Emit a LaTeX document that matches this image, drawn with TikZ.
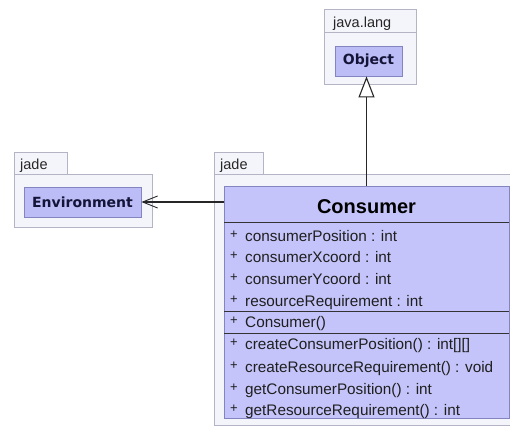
\documentclass[tikz,border=0pt]{standalone}
\usepackage{fontspec}
\setmainfont{Liberation Sans}
\newfontfamily\clsfont{DejaVu Sans}
\usetikzlibrary{arrows.meta,positioning}

\definecolor{pkgfill}{HTML}{F4F4FB}
\definecolor{pkgdraw}{HTML}{B4B4C4}
\definecolor{clsfill}{HTML}{BCBCF6}
\definecolor{clsdraw}{HTML}{8484C0}
\definecolor{consfill}{HTML}{C4C4FA}
\definecolor{clstext}{HTML}{141438}

\tikzset{
  pkg/.style={draw=pkgdraw, fill=pkgfill, line width=0.8pt},
  pkglabel/.style={anchor=base west, inner sep=0pt, font=\fontsize{14.5}{15}\selectfont, text=black!85},
  cls/.style={draw=clsdraw, fill=clsfill, line width=0.8pt, inner sep=0pt, font=\clsfont\bfseries\fontsize{14}{16}\selectfont, text=clstext},
  member/.style={anchor=base west, inner sep=0pt, font=\fontsize{15.3}{16}\selectfont, text=black!88},
  link/.style={line width=1.1pt, draw=black!85},
}

\begin{document}
\begin{tikzpicture}[x=1pt,y=-1pt]
  \useasboundingbox (0,0) rectangle (510,426);
  \clip (0,0) rectangle (510,426);
  \fill[white] (0,0) rectangle (510,426);

  % java.lang
  \draw[pkg] (324,9) rectangle (416,32);
  \draw[pkg] (324,32) rectangle (416,84);
  \node[pkglabel] (langlbl) at (333,27) {java.lang};
  \node[cls, minimum width=67pt, minimum height=30pt] (object) at (368.5,61) {Object};

  % jade, left
  \draw[pkg] (14,152) rectangle (67,174);
  \draw[pkg] (14,174) rectangle (152,227);
  \node[pkglabel] (jadelbl) at (20,169) {jade};
  \node[cls, minimum width=117pt, minimum height=30pt] (environment) at (82.5,202) {Environment};

  % jade, right
  \draw[pkg] (214,152) rectangle (263,174);
  \draw[pkg] (214,174) rectangle (530,425);
  \node[pkglabel] (jadelbl2) at (220,169) {jade};
  \node[draw=clsdraw, fill=consfill, line width=0.8pt, minimum width=285pt, minimum height=232pt] (consumer) at (366.5,302) {};
  \node[anchor=base, inner sep=0pt, font=\bfseries\fontsize{20}{22}\selectfont] (title) at (366.5,213) {Consumer};
  \foreach \sy in {222,311,333}
    \draw[line width=0.9pt, black!80] (224,\sy) -- (509,\sy);
  \foreach \by/\txt [count=\i] in {241/{consumerPosition : int}, 262/{consumerXcoord : int},
      284/{consumerYcoord : int}, 306/{resourceRequirement : int}, 327/{Consumer()},
      349/{createConsumerPosition() : int[][]}, 372/{createResourceRequirement() : void},
      394/{getConsumerPosition() : int}, 415/{getResourceRequirement() : int}}{
    \node[member] (plus\i) at (230,\by) {\raisebox{2.5pt}{\fontsize{13}{13}\selectfont +}};
    \node[member] (item\i) at (245,\by) {\txt};
  }

  \draw[link, -{Triangle[open, fill=white, length=21pt, width=16pt]}] (consumer.north) -- (consumer.north |- object.south);
  \draw[link, -{Straight Barb[length=15pt, width=12pt, line width=0.9pt]}] (consumer.west |- environment.east) -- (environment.east);
\end{tikzpicture}
\end{document}
